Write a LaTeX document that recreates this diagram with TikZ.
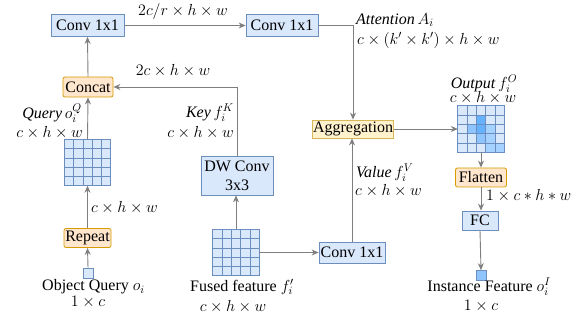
\documentclass[tikz,border=0pt]{standalone}
\usepackage{fix-cm}
\usepackage{fontspec}
\setmainfont{Liberation Serif}
\usetikzlibrary{arrows.meta,calc}
\definecolor{bfill}{HTML}{DAE8FC}
\definecolor{bline}{HTML}{6C8EBF}
\definecolor{ofill}{HTML}{FFE6CC}
\definecolor{oline}{HTML}{D79B00}
\definecolor{yfill}{HTML}{FFF2CC}
\definecolor{yline}{HTML}{D6B656}
\definecolor{arr}{HTML}{7F7F7F}
\definecolor{cD}{HTML}{66B2FF}
\definecolor{cM}{HTML}{8EC5FF}
\definecolor{cA}{HTML}{A6D2FF}
\newcommand\drawgridlines[1]{%
  \foreach \i in {1,...,4}{%
    \draw[gridline] ($(#1.north west)!\i/5!(#1.north east)$) -- ($(#1.south west)!\i/5!(#1.south east)$);
    \draw[gridline] ($(#1.north west)!\i/5!(#1.south west)$) -- ($(#1.north east)!\i/5!(#1.south east)$);
  }%
  \draw[gridline] (#1.north west) rectangle (#1.south east);
}
\begin{document}
\begin{tikzpicture}[x=1pt,y=-1pt,
  every node/.style={font=\fontsize{16}{19}\selectfont, inner sep=0pt},
  bluebox/.style={draw=bline, fill=bfill, line width=0.8pt, minimum height=22pt},
  orangebox/.style={draw=oline, fill=ofill, line width=0.8pt, rounded corners=2pt, minimum height=19pt},
  yellowbox/.style={draw=yline, fill=yfill, line width=0.8pt, minimum height=18pt},
  gridbox/.style={fill=bfill, minimum width=46pt, minimum height=46pt},
  gridline/.style={draw=bline, line width=0.7pt},
  smallsq/.style={draw=bline, line width=0.7pt, minimum width=10pt, minimum height=10pt},
  conn/.style={draw=arr, line width=0.9pt, -{Stealth[length=7pt,width=6pt]}},
  lbl/.style={}
]
\useasboundingbox (0,0) rectangle (580,320);

% boxes
\node[bluebox, minimum width=73pt] (conv1) at (87.5,25.5) {Conv 1x1};
\node[bluebox, minimum width=72pt] (conv2) at (282,25.5) {Conv 1x1};
\node[orangebox, minimum width=50pt, minimum height=20pt] (concat) at (88,87) {Concat};
\node[orangebox, minimum width=47pt] (repeat) at (87.5,238) {Repeat};
\node[bluebox, minimum width=72pt, minimum height=39pt, align=center, font=\fontsize{16}{19}\selectfont] (dw) at (237,175.5) {DW Conv\\3x3};
\node[bluebox, minimum width=66pt, minimum height=21pt] (conv3) at (352,252.5) {Conv 1x1};
\node[yellowbox, minimum width=81pt] (agg) at (353,129) {Aggregation};
\node[orangebox, minimum width=51pt] (flatten) at (481,177.5) {Flatten};
\node[bluebox, minimum width=36pt, minimum height=19pt] (fc) at (480,220.5) {FC};
\node[smallsq, fill=bfill] (oq) at (88,273) {};
\node[smallsq, fill=cM] (inst) at (481,275.5) {};

% grids
\node[gridbox] (qgrid) at (87.5,162.5) {};
\drawgridlines{qgrid}
\node[gridbox] (fgrid) at (236,252.5) {};
\drawgridlines{fgrid}
\node[gridbox] (ogrid) at (481,129) {};
\foreach \c/\r/\col in {2/1/cD, 1/2/cM, 2/2/cD, 3/2/cA, 2/3/cM, 3/3/cA, 3/4/cA, 4/4/cA}{%
  \fill[\col] ($(ogrid.north west)+(\c*9.2,\r*9.2)$) rectangle +(9.2,9.2);
}
\drawgridlines{ogrid}

% connectors
\draw[conn] (conv1.east) -- (conv2.west);
\draw[conn] (concat.north) -- (conv1.south);
\draw[conn] (qgrid.north) -- (concat.south);
\draw[conn] (repeat.north) -- (qgrid.south);
\draw[conn] (oq.north) -- (repeat.south);
\draw[conn] (fgrid.north) -- (fgrid.north |- dw.south);
\draw[conn] (dw.north) |- (concat.east);
\draw[conn] (fgrid.east) -- (conv3.west);
\draw[conn] (conv3.north) -- (conv3.north |- agg.south);
\draw[conn] (conv2.east) -| (agg.north);
\draw[conn] (agg.east) -- (ogrid.west);
\draw[conn] (ogrid.south) -- (flatten.north);
\draw[conn] (flatten.south) -- (flatten.south |- fc.north);
\draw[conn] (fc.south) -- (inst.north);

% labels
\node[lbl] (l1) at (183,12) {$2c/r\times h\times w$};
\node[lbl] (l2) at (173,71) {$2c\times h\times w$};
\node[lbl, anchor=east] (lq1) at (82,113) {\textit{Query}\,$o_i^Q$};
\node[lbl, anchor=east] (lq2) at (83,133) {$c\times h\times w$};
\node[lbl, anchor=east] (lk1) at (234,113) {\textit{Key}\,$f_i^K$};
\node[lbl, anchor=east] (lk2) at (234,133) {$c\times h\times w$};
\node[lbl, anchor=west] (lr) at (91,208) {$c\times h\times w$};
\node[lbl, anchor=west] (lv1) at (356,173) {\textit{Value}\,$f_i^V$};
\node[lbl, anchor=west] (lv2) at (355,191) {$c\times h\times w$};
\node[lbl, anchor=west] (la1) at (356,20) {\textit{Attention}\,$A_i$};
\node[lbl, anchor=west] (la2) at (357,40) {$c\times(k'\times k')\times h\times w$};
\node[lbl] (lo1) at (484,84) {\textit{Output}\,$f_i^O$};
\node[lbl] (lo2) at (483,98) {$c\times h\times w$};
\node[lbl, anchor=west] (lf) at (486,196) {$1\times c*h*w$};
\node[lbl] (lb1) at (93.5,287) {Object Query $o_i$};
\node[lbl] (lb2) at (88,302) {$1\times c$};
\node[lbl] (lfu1) at (242,287) {Fused feature $f_i'$};
\node[lbl] (lfu2) at (233,307) {$c\times h\times w$};
\node[lbl] (li1) at (489,287) {Instance Feature $o_i^I$};
\node[lbl] (li2) at (481,306) {$1\times c$};
\end{tikzpicture}
\end{document}
